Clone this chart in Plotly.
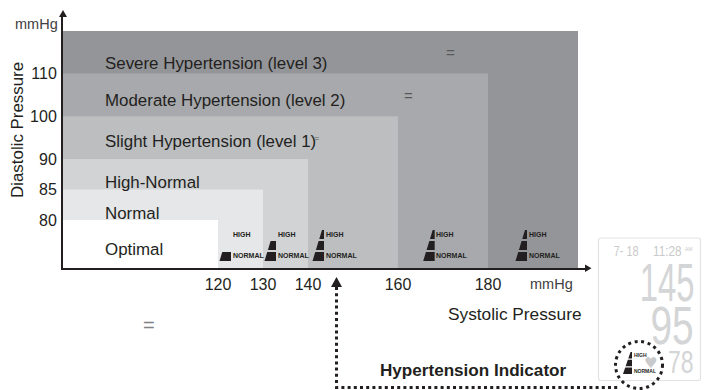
import plotly.graph_objects as go

# ---------- data ----------
band_names = ["Severe Hypertension (level 3)", "Moderate Hypertension (level 2)",
              "Slight Hypertension (level 1)", "High-Normal", "Normal", "Optimal"]
band_systolic = [200, 180, 160, 140, 130, 120]
band_diastolic = [120, 110, 100, 90, 85, 80]
band_colors = ["#939598", "#a7a9ac", "#bcbec0", "#d1d3d4", "#e6e7e8", "#ffffff"]
band_label_y = [63, 100, 141, 182, 213, 249]
sys_ticks = [120, 130, 140, 160, 180]
dia_ticks = [80, 85, 90, 100, 110]
indicator_levels = [1, 2, 3, 3, 3]
indicator_right = [231, 276, 324, 434.7, 527]
lcd_date = "7- 18"
lcd_time = "11:28"
lcd_sys = "145"
lcd_dia = "95"
lcd_pulse = "78"

INK = "#231f20"
FONT = "Liberation Sans"
SYS_MIN = 85.56
BASE_PX = 268


def dia_pos(v):
    """Non-uniform diastolic scale of the chart, returned in y-axis units."""
    return 159 + (90 - v) * 6.1 if v <= 90 else 159 - (v - 90) * 4.27


fig = go.Figure()

# bands on the data axes
for name, s, d, c in zip(band_names, band_systolic, band_diastolic, band_colors):
    top = dia_pos(d)
    fig.add_trace(go.Scatter(
        x=[SYS_MIN, s, s, SYS_MIN, SYS_MIN], y=[BASE_PX, BASE_PX, top, top, BASE_PX],
        mode="lines", fill="toself", fillcolor=c, line=dict(width=0),
        hoverinfo="skip", showlegend=False, xaxis="x", yaxis="y"))


def poly(xs, ys, color):
    fig.add_trace(go.Scatter(x=xs, y=ys, mode="lines", fill="toself", fillcolor=color,
                             line=dict(width=0), hoverinfo="skip", showlegend=False,
                             xaxis="x2", yaxis="y2"))


def label(x, y, text, size=16.9, color=INK, anchor="left", bold=False, font=FONT, angle=0):
    t = f"<b>{text}</b>" if bold else text
    fig.add_annotation(x=x, y=y, xref="x2", yref="y2", text=t, showarrow=False, xanchor=anchor,
                       yanchor="middle", textangle=angle,
                       font=dict(family=font, size=size, color=color), borderpad=0, borderwidth=0)


def indicator(right, level, top, bottom, dy_gap, lw=9.5, lead=2):
    h = bottom - top

    def left(y):
        return right - lead - (y - top) * lw / h

    seg = (h - 2 * dy_gap) / 3
    for i in range(level):
        y2 = bottom - i * (seg + dy_gap)
        y1 = y2 - seg
        poly([left(y2), right, right, left(y1), left(y2)], [y2, y2, y1, y1, y2], INK)


# axis arrows
poly([59, 67, 63, 59], [17, 17, 10, 17], INK)
poly([585, 585, 591.5, 585], [264.5, 272, 268.2, 264.5], INK)

# band labels
for name, y in zip(band_names, band_label_y):
    label(105, y, name)

# hypertension icons in the chart
for r, lvl in zip(indicator_right, indicator_levels):
    indicator(r, lvl, 230, 261, 2)
    label(r + 1.7, 234.7, "HIGH", size=7, bold=True)
    label(r + 1.7, 255.7, "NORMAL", size=7, bold=True)

# unit and axis texts
label(58, 24, "mmHg", size=14.5, color="#414042", anchor="right")
label(551.5, 284, "mmHg", size=14.5, color="#414042", anchor="center")
label(17, 130, "Diastolic Pressure", angle=-90, anchor="center")
label(582, 314, "Systolic Pressure", size=17.3, anchor="right")
label(473, 370, "Hypertension Indicator", size=17.1, bold=True, anchor="center")

# stray marks of the original
label(450, 52.5, "=", size=15, color="#58595b", anchor="center")
label(408.5, 95, "=", size=15, color="#58595b", anchor="center")
label(148.5, 325, "=", size=20, color="#808285", anchor="center")
label(316, 138, "=", size=9, color="#58595b", anchor="center")

# LCD panel
fig.add_shape(type="path", xref="x2", yref="y2",
              path="M 601 238 L 698 238 Q 700.5 238 700.5 240.5 L 700.5 378 Q 700.5 380.5 698 380.5 "
                   "L 601 380.5 Q 598.5 380.5 598.5 378 L 598.5 240.5 Q 598.5 238 601 238 Z",
              line=dict(color="#e2e3e4", width=1.2), fillcolor="#ffffff", layer="below")
LCD = "#d4d5d6"
label(625.5, 250.5, lcd_date, size=15, color="#c9cacb", anchor="center")
label(667, 250.5, lcd_time, size=15, color="#c9cacb", anchor="center")
label(688.5, 249, "AM", size=5, color="#c9cacb", anchor="center")
label(667, 282, lcd_sys, size=53, color=LCD, anchor="center")
label(672, 325, lcd_dia, size=54, color=LCD, anchor="center")
label(680.5, 362, lcd_pulse, size=32, color=LCD, anchor="center")
label(650.5, 363, "♥", size=15, color="#c9cacb", anchor="center", font="DejaVu Sans")

# small indicator on the LCD
indicator(632, 3, 352, 374, 1.2, lw=7.5, lead=1.5)
label(633.8, 354.5, "HIGH", size=5, bold=True)
label(633.8, 371, "NORMAL", size=5, bold=True)

# dotted callout
fig.add_shape(type="circle", xref="x2", yref="y2", x0=615.5, x1=662.5, y0=341.5, y1=388.5,
              line=dict(color=INK, width=3, dash="3px,3.6px"))
fig.add_shape(type="path", xref="x2", yref="y2", path="M 336.5 287 L 336.5 387.5 L 618 387.5",
              line=dict(color=INK, width=3, dash="3px,3.2px"))
poly([331, 342, 336.5, 331], [287, 287, 277, 287], INK)

fig.update_layout(
    width=720, height=390, margin=dict(l=0, r=0, t=0, b=0),
    paper_bgcolor="white", plot_bgcolor="rgba(0,0,0,0)", showlegend=False,
    font=dict(family=FONT, color=INK),
    xaxis=dict(domain=[63 / 720, 586 / 720], range=[SYS_MIN, 120 + (586 - 218) / 4.5],
               anchor="y", showgrid=False, zeroline=False, showline=True,
               linecolor=INK, linewidth=2, tickmode="array", tickvals=sys_ticks,
               ticktext=[str(v) for v in sys_ticks], ticks="outside", ticklen=1,
               tickcolor="rgba(0,0,0,0)", tickfont=dict(size=16, color=INK)),
    yaxis=dict(domain=[(390 - BASE_PX) / 390, (390 - 17) / 390], range=[BASE_PX, 17],
               anchor="x", showgrid=False, zeroline=False, showline=True,
               linecolor=INK, linewidth=2, tickmode="array",
               tickvals=[dia_pos(v) for v in dia_ticks],
               ticktext=[str(v) for v in dia_ticks], ticks="outside", ticklen=1,
               tickcolor="rgba(0,0,0,0)", tickfont=dict(size=16, color=INK)),
    xaxis2=dict(domain=[0, 1], range=[0, 720], anchor="y2", visible=False, fixedrange=True),
    yaxis2=dict(domain=[0, 1], range=[390, 0], anchor="x2", visible=False, fixedrange=True),
)

# remove the page margin; the LCD digits are condensed: squeeze the real text horizontally
squeeze = """
document.body.style.margin='0';
document.documentElement.style.overflow='hidden';
var cond = {'145':0.62,'95':0.72,'78':0.72,'7- 18':0.72,'11:28':0.78};
document.querySelectorAll('.annotation-text').forEach(function(t){
  var k = cond[t.textContent];
  if(k){ t.style.transformBox='fill-box'; t.style.transformOrigin='center'; t.style.transform='scaleX('+k+')'; }
});
"""
fig.write_html("out.html", config=dict(displayModeBar=False), post_script=squeeze)
